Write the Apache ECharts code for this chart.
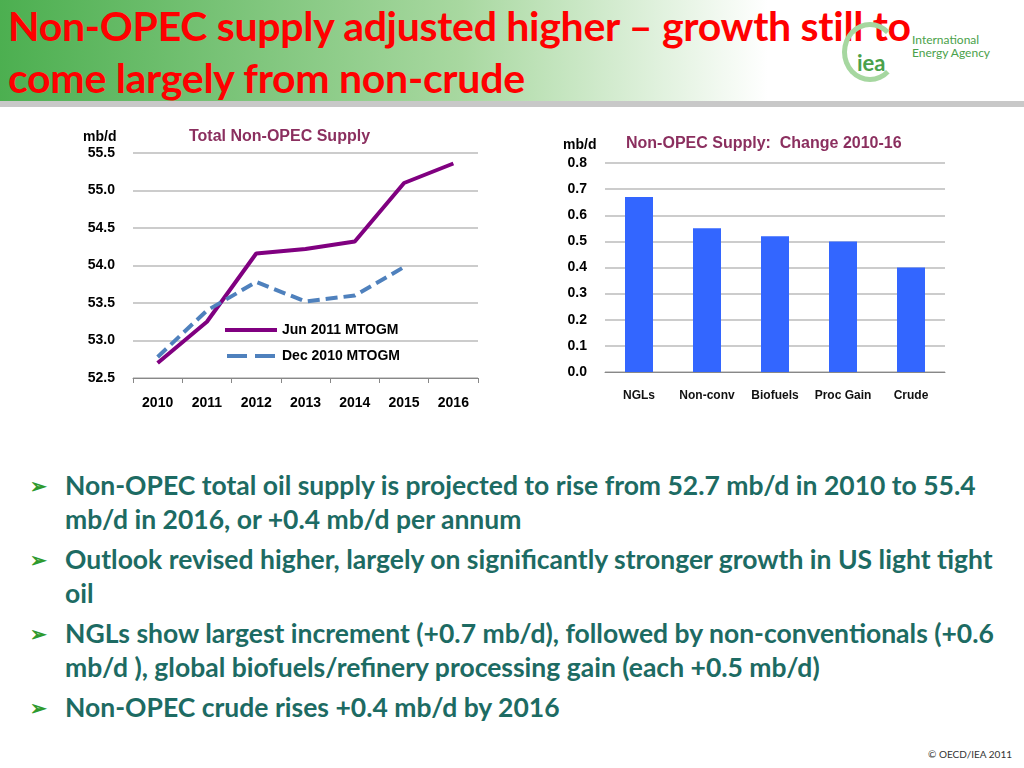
<!DOCTYPE html>
<html><head><meta charset="utf-8">
<script src="https://cdn.jsdelivr.net/npm/echarts@6/dist/echarts.min.js"></script>
<style>
body{margin:0;width:1024px;height:768px;overflow:hidden;background:#fff;font-family:Lato,"Open Sans",sans-serif;position:relative}
#head{position:absolute;left:0;top:0;width:1024px;height:104px;background:linear-gradient(90deg,#4caf50 0%,#a8d8a0 45%,#ffffff 75%)}
#head h1{margin:0;position:absolute;left:8px;top:0px;color:#ff0000;font-size:41px;line-height:52px;font-weight:bold;letter-spacing:-0.3px}
#bar{position:absolute;left:0;top:101px;width:1024px;height:6px;background:#c8c8c8}
#logo{position:absolute;left:842px;top:22px;width:56px;height:60px;border:5px solid #a6d7a0;border-radius:50%;border-right-color:transparent;box-sizing:border-box}
#logo span{position:absolute;left:10px;top:22px;color:#4aa14a;font:bold 22px Lato}
#org{position:absolute;left:912px;top:33px;color:#4aa14a;font-size:12px;line-height:13px}
#chart{position:absolute;left:0;top:110px;width:1024px;height:320px}
ul{position:absolute;left:30px;top:468px;margin:0;padding:0;list-style:none;width:975px}
li{color:#1d6b63;font-weight:bold;font-size:26.5px;line-height:34px;padding-left:35px;position:relative;margin-bottom:6px}
li:before{content:"\27A2";position:absolute;left:0;top:0;color:#2e9a2e;font-size:20px}
#copy{position:absolute;right:12px;bottom:8px;font-size:10px;color:#333}
</style></head><body>
<div id="head"><h1>Non-OPEC supply adjusted higher – growth still to<br>come largely from non-crude</h1></div>
<div id="logo"><span>iea</span></div>
<div id="org">International<br>Energy Agency</div>
<div id="bar"></div>
<div id="chart"></div>
<ul>
<li>Non-OPEC total oil supply is projected to rise from 52.7 mb/d in 2010 to 55.4 mb/d in 2016, or +0.4 mb/d per annum</li>
<li>Outlook revised higher, largely on significantly stronger growth in US light tight oil</li>
<li>NGLs show largest increment (+0.7 mb/d), followed by non-conventionals (+0.6 mb/d ), global biofuels/refinery processing gain (each +0.5 mb/d)</li>
<li>Non-OPEC crude rises +0.4 mb/d by 2016</li>
</ul>
<div id="copy">© OECD/IEA 2011</div>
<script>
const years = ['2010','2011','2012','2013','2014','2015','2016'];
const jun2011 = [52.7, 53.25, 54.16, 54.22, 54.32, 55.1, 55.36];
const dec2010 = [52.78, 53.4, 53.78, 53.52, 53.6, 53.98];
const components = ['NGLs','Non-conv','Biofuels','Proc Gain','Crude'];
const change = [0.67, 0.55, 0.52, 0.50, 0.40];

const ax = {fontFamily:'Liberation Sans, Arial',fontWeight:'bold',color:'#000'};
const chart = echarts.init(document.getElementById('chart'));
chart.setOption({
  animation:false,
  title:[
    {text:'Total Non-OPEC Supply',left:184,top:14,textStyle:{fontFamily:'Liberation Sans',fontSize:16,fontWeight:'bold',color:'#8b2f5f'}},
    {text:'Non-OPEC Supply:  Change 2010-16',left:621,top:21,textStyle:{fontFamily:'Liberation Sans',fontSize:16,fontWeight:'bold',color:'#8b2f5f'}},
    {text:'mb/d',left:78,top:15,textStyle:{...ax,fontSize:14}},
    {text:'mb/d',left:558,top:23,textStyle:{...ax,fontSize:14}}
  ],
  legend:{left:220,top:208,orient:'vertical',itemWidth:52,itemHeight:4,itemGap:12,
    textStyle:{...ax,fontSize:14},
    data:[{name:'Jun 2011 MTOGM',icon:'rect'},{name:'Dec 2010 MTOGM',icon:'path://M0,0H10V2H0Z M14,0H24V2H14Z'}]},
  grid:[
    {left:133,top:43,width:345,height:225},
    {left:605,top:53,width:340,height:209}
  ],
  xAxis:[
    {type:'category',data:years,gridIndex:0,boundaryGap:true,
      axisLine:{lineStyle:{color:'#888'}},axisTick:{show:true,length:5,lineStyle:{color:'#888'}},
      axisLabel:{...ax,fontSize:14,margin:18}},
    {type:'category',data:components,gridIndex:1,
      axisLine:{lineStyle:{color:'#888'}},axisTick:{show:false},
      axisLabel:{...ax,fontSize:12,margin:18,color:'#111',interval:0}}
  ],
  yAxis:[
    {type:'value',gridIndex:0,min:52.5,max:55.5,interval:0.5,
      axisLabel:{...ax,fontSize:14,formatter:v=>v.toFixed(1),margin:18},
      splitLine:{lineStyle:{color:'#bbb',width:1.5}},axisLine:{show:false},axisTick:{show:false}},
    {type:'value',gridIndex:1,min:0,max:0.8,interval:0.1,
      axisLabel:{...ax,fontSize:14,formatter:v=>v.toFixed(1),margin:18},
      splitLine:{lineStyle:{color:'#bbb',width:1.5}},axisLine:{show:false},axisTick:{show:false}}
  ],
  series:[
    {name:'Jun 2011 MTOGM',type:'line',data:jun2011,xAxisIndex:0,yAxisIndex:0,symbol:'none',
      lineStyle:{color:'#800080',width:4},itemStyle:{color:'#800080'}},
    {name:'Dec 2010 MTOGM',type:'line',data:dec2010,xAxisIndex:0,yAxisIndex:0,symbol:'none',
      lineStyle:{color:'#4f81bd',width:4,type:[12,6]},itemStyle:{color:'#4f81bd'}},
    {type:'bar',data:change,xAxisIndex:1,yAxisIndex:1,barWidth:28,
      itemStyle:{color:'#3366ff'}}
  ]
});
</script>
</body></html>
